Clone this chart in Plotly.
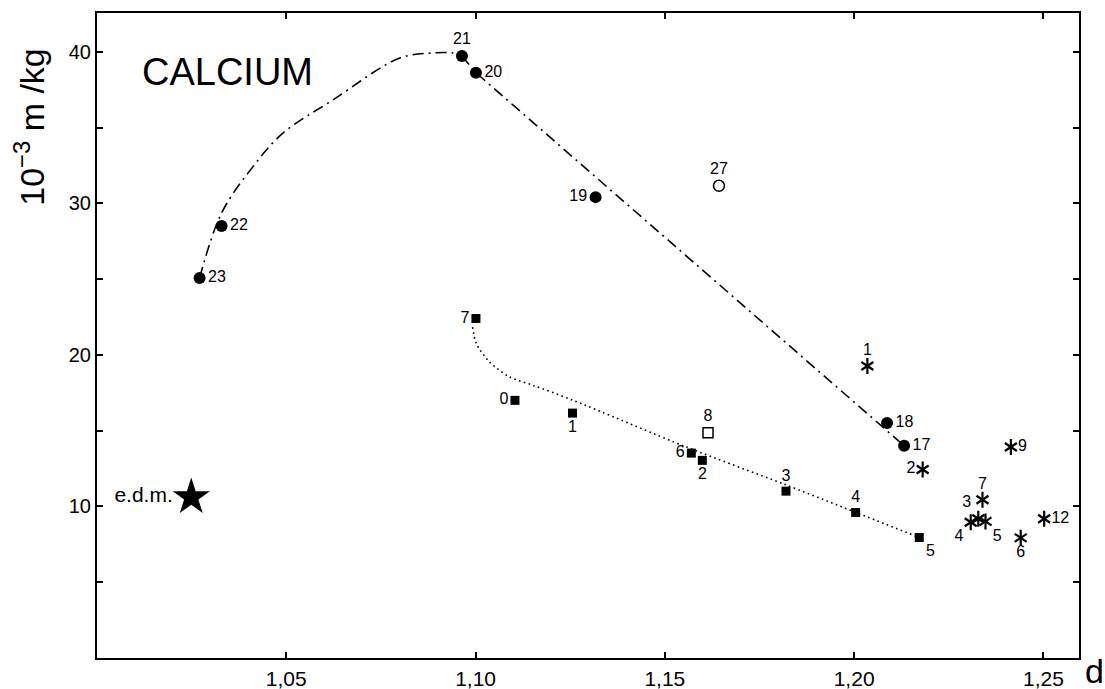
import plotly.graph_objects as go

# ---------------- data ----------------
circle_d = [1.0271, 1.0329, 1.0964, 1.1001, 1.1317, 1.2087, 1.2132]
circle_v = [25.08, 28.51, 39.72, 38.62, 30.41, 15.50, 14.01]
circle_lbl = ["23", "22", "21", "20", "19", "18", "17"]
circle_pos = ["middle right", "middle right", "top center", "middle right",
              "middle left", "middle right", "middle right"]

square_d = [1.1001, 1.1104, 1.1256, 1.1570, 1.1599, 1.1820, 1.2004, 1.2172]
square_v = [22.40, 17.00, 16.16, 13.52, 13.04, 11.01, 9.60, 7.95]
square_lbl = ["7", "0", "1", "6", "2", "3", "4", "5"]
square_pos = ["middle left", "middle left", "bottom center", "middle left",
              "bottom center", "top center", "top center", "bottom right"]

open_square_d = [1.1614]
open_square_v = [14.87]
open_square_lbl = ["8"]

open_circle_d = [1.1643]
open_circle_v = [31.16]
open_circle_lbl = ["27"]

aster_d = [1.2035, 1.2181, 1.2414, 1.2339, 1.2328, 1.2308, 1.2347, 1.2440, 1.2502]
aster_v = [19.27, 12.44, 13.92, 10.44, 9.19, 8.96, 9.01, 7.93, 9.19]
aster_lbl = ["1", "2", "9", "7", "3", "4", "5", "6", "12"]
aster_pos = ["top center", "middle left", "middle right", "top center", "top left",
             "bottom left", "bottom right", "bottom center", "middle right"]

edm_d = [1.0249]
edm_v = [10.61]
edm_lbl = ["e.d.m."]

# hand-drawn guide curves
dashdot_curve_d = [1.0271, 1.0329, 1.0411, 1.0491, 1.0623, 1.0800, 1.0887, 1.0940, 1.0964]
dashdot_curve_v = [25.08, 29.36, 32.39, 34.63, 36.82, 39.59, 39.92, 39.92, 39.72]
dashdot_line_d = [1.0964, 1.1001, 1.2132]
dashdot_line_v = [39.72, 38.62, 14.01]

dotted_d = [1.0992, 1.1002, 1.1037, 1.1090, 1.1152, 1.1258, 1.1557, 1.1812, 1.1980, 1.2172]
dotted_v = [21.84, 20.75, 19.53, 18.54, 17.99, 17.00, 13.92, 11.50, 9.85, 7.95]

x_ticks = [1.05, 1.10, 1.15, 1.20, 1.25]
x_ticktext = ["1,05", "1,10", "1,15", "1,20", "1,25"]
y_ticks = [10, 20, 30, 40]
y_ticktext = ["10", "20", "30", "40"]
y_minor_ticks = [5, 15, 25, 35]

# ---------------- figure ----------------
FONT = "Liberation Sans, Arial, Helvetica, sans-serif"
lab_font = dict(family=FONT, size=16, color="black")

fig = go.Figure()

fig.add_trace(go.Scatter(x=dashdot_curve_d, y=dashdot_curve_v, mode="lines",
                         line=dict(color="black", width=1.6, dash="11px,5px,2px,5px",
                                   shape="spline", smoothing=1.0),
                         hoverinfo="skip", showlegend=False))
fig.add_trace(go.Scatter(x=dashdot_line_d, y=dashdot_line_v, mode="lines",
                         line=dict(color="black", width=1.6, dash="11px,5px,2px,5px"),
                         hoverinfo="skip", showlegend=False))
fig.add_trace(go.Scatter(x=dotted_d, y=dotted_v, mode="lines",
                         line=dict(color="black", width=1.6, dash="1.6px,3.4px",
                                   shape="spline", smoothing=0.8),
                         hoverinfo="skip", showlegend=False))

fig.add_trace(go.Scatter(x=circle_d, y=circle_v, mode="markers+text",
                         marker=dict(symbol="circle", size=12, color="black"),
                         text=circle_lbl, textposition=circle_pos, textfont=lab_font,
                         showlegend=False))
fig.add_trace(go.Scatter(x=square_d, y=square_v, mode="markers+text",
                         marker=dict(symbol="square", size=9, color="black"),
                         text=square_lbl, textposition=square_pos, textfont=lab_font,
                         showlegend=False))
fig.add_trace(go.Scatter(x=open_square_d, y=open_square_v, mode="markers+text",
                         marker=dict(symbol="square-open", size=10, color="black",
                                     line=dict(width=1.5, color="black")),
                         text=open_square_lbl, textposition="top center", textfont=lab_font,
                         showlegend=False))
fig.add_trace(go.Scatter(x=open_circle_d, y=open_circle_v, mode="markers+text",
                         marker=dict(symbol="circle-open", size=11, color="black",
                                     line=dict(width=1.5, color="black")),
                         text=open_circle_lbl, textposition="top center", textfont=lab_font,
                         showlegend=False))
fig.add_trace(go.Scatter(x=aster_d, y=aster_v, mode="markers+text",
                         marker=dict(symbol="y-up-open", size=10, color="black",
                                     line=dict(width=2.2, color="black")),
                         text=aster_lbl, textposition=aster_pos, textfont=lab_font,
                         showlegend=False))
fig.add_trace(go.Scatter(x=aster_d, y=aster_v, mode="markers",
                         marker=dict(symbol="y-down-open", size=10, color="black",
                                     line=dict(width=2.2, color="black")),
                         showlegend=False))
fig.add_trace(go.Scatter(x=edm_d, y=edm_v, mode="markers+text",
                         marker=dict(symbol="star", size=28, color="black"),
                         text=edm_lbl, textposition="middle left",
                         textfont=dict(family=FONT, size=21, color="black"),
                         showlegend=False))

axis_common = dict(showline=True, linecolor="black", linewidth=2, mirror="ticks",
                   ticks="inside", ticklen=6, tickwidth=1.5, tickcolor="black",
                   showgrid=False, zeroline=False, automargin=False)

fig.update_xaxes(range=[1.0, 1.2594], tickvals=x_ticks, ticktext=x_ticktext,
                 tickfont=dict(family=FONT, size=21, color="black"),
                 ticklabelstandoff=1, **axis_common)
fig.update_yaxes(range=[0, 42.56], tickvals=y_ticks, ticktext=y_ticktext,
                 tickfont=dict(family=FONT, size=20, color="black"),
                 minor=dict(tickvals=y_minor_ticks, ticks="inside", ticklen=6,
                            tickwidth=1.5, tickcolor="black", showgrid=False),
                 **axis_common)

fig.add_annotation(text="CALCIUM", xref="paper", yref="paper", x=0.0435, y=0.909,
                   xanchor="left", yanchor="middle", showarrow=False,
                   font=dict(family=FONT, size=38, color="black"))
fig.add_annotation(text="10<sup>\u22123</sup> m /kg", xref="paper", yref="paper",
                   x=-0.069, y=0.824, xanchor="center", yanchor="middle", textangle=-90,
                   showarrow=False, font=dict(family=FONT, size=34, color="black"))
fig.add_annotation(text="d", xref="paper", yref="paper", x=1.0153, y=-0.02,
                   xanchor="center", yanchor="middle", showarrow=False,
                   font=dict(family=FONT, size=34, color="black"))

fig.update_layout(width=1105, height=689, plot_bgcolor="white", paper_bgcolor="white",
                  margin=dict(l=97, r=26, t=13, b=31, autoexpand=False), showlegend=False)

# remove the page's default body margin so the figure fills the window exactly
fig.write_html("out.html", config={"displayModeBar": False},
               post_script="document.body.style.margin='0';"
                           "document.body.style.overflow='hidden';")
